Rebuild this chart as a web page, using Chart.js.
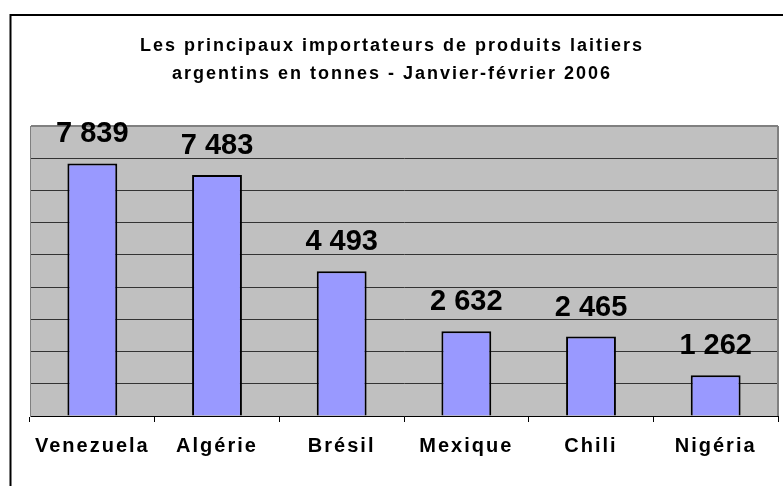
<!DOCTYPE html>
<html>
<head>
<meta charset="utf-8">
<script src="https://cdn.jsdelivr.net/npm/chart.js@4"></script>
<style>
html,body{margin:0;padding:0;background:#fff;}
canvas{display:block;}
</style>
</head>
<body>
<canvas id="c" width="783" height="486"></canvas>
<script>
const titleLines = ["Les principaux importateurs de produits laitiers", "argentins en tonnes - Janvier-février 2006"];
const categories = ["Venezuela", "Algérie", "Brésil", "Mexique", "Chili", "Nigéria"];
const values = [7839, 7483, 4493, 2632, 2465, 1262];
const yMax = 9000;
const yStep = 1000;

const FONT = '"Liberation Sans", Arial, sans-serif';

function fmt(v){ return String(v).replace(/\B(?=(\d{3})+(?!\d))/g, ' '); }

const decor = {
  id: 'decor',
  beforeDraw(chart){
    const ctx = chart.ctx, a = chart.chartArea;
    ctx.save();
    ctx.fillStyle = '#fff';
    ctx.fillRect(0,0,chart.width,chart.height);
    ctx.fillStyle = '#C0C0C0';
    ctx.fillRect(a.left, a.top, a.right - a.left, a.bottom - a.top);
    ctx.strokeStyle = '#000';
    ctx.lineWidth = 2;
    ctx.beginPath();
    ctx.moveTo(10.5, 600);
    ctx.lineTo(10.5, 15);
    ctx.lineTo(900, 15);
    ctx.stroke();
    ctx.restore();
    ctx.letterSpacing = '2px';
  },
  afterDraw(chart){
    const ctx = chart.ctx, a = chart.chartArea;
    ctx.save();
    ctx.strokeStyle = '#808080';
    ctx.lineWidth = 2;
    ctx.beginPath();
    ctx.moveTo(a.right, a.top);
    ctx.lineTo(a.right, a.bottom);
    ctx.stroke();
    ctx.restore();
    ctx.save();
    ctx.letterSpacing = '0px';
    ctx.font = 'bold 29px ' + FONT;
    ctx.fillStyle = '#000';
    ctx.textAlign = 'center';
    ctx.textBaseline = 'alphabetic';
    const meta = chart.getDatasetMeta(0);
    meta.data.forEach((bar, i) => {
      ctx.fillText(fmt(values[i]), bar.x, bar.y - 21);
    });
    ctx.restore();
  }
};

new Chart(document.getElementById('c'), {
  type: 'bar',
  data: {
    labels: categories,
    datasets: [{
      data: values,
      backgroundColor: '#9999FF',
      borderColor: '#000',
      borderWidth: 2,
      categoryPercentage: 1,
      barPercentage: 0.4
    }]
  },
  options: {
    responsive: false,
    devicePixelRatio: 1,
    animation: false,
    layout: { padding: { left: 6, right: 5, top: 0, bottom: 0 } },
    plugins: {
      legend: { display: false },
      tooltip: { enabled: false },
      title: {
        display: true,
        text: titleLines,
        color: '#000',
        font: { family: FONT, size: 18, weight: 'bold', lineHeight: 28/18 },
        padding: { top: 32, bottom: 38 }
      }
    },
    scales: {
      x: {
        afterFit(s){ s.height = 70; },
        grid: {
          display: true,
          drawOnChartArea: false,
          drawTicks: true,
          tickLength: 6,
          color: '#000',
          lineWidth: 1
        },
        border: { display: true, color: '#000', width: 1 },
        ticks: {
          color: '#000',
          font: { family: FONT, size: 20, weight: 'bold' },
          padding: 12
        }
      },
      y: {
        min: 0,
        max: yMax,
        afterFit(s){ s.width = 24; },
        grid: {
          drawTicks: false,
          color: (c) => (c.tick && c.tick.value === yMax) ? '#808080' : '#333',
          lineWidth: (c) => (c.tick && c.tick.value === yMax) ? 2 : 1
        },
        border: { display: true, color: '#808080', width: 1 },
        ticks: { display: false, stepSize: yStep }
      }
    }
  },
  plugins: [decor]
});
</script>
</body>
</html>
